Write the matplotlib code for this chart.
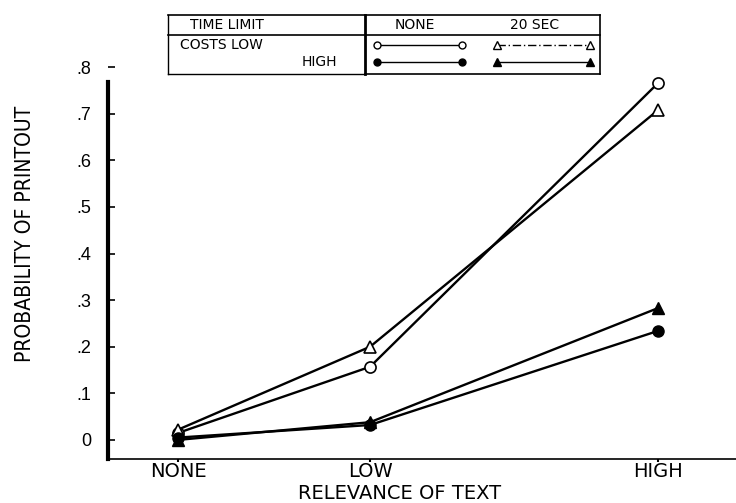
"""Probability of printout vs relevance of text, by cost and time limit."""
import matplotlib
matplotlib.use("Agg")
import matplotlib.pyplot as plt
from matplotlib.lines import Line2D

relevance = ["NONE", "LOW", "HIGH"]
x_pos = [0, 1, 2.5]  # original figure spaces the categories unevenly

low_cost_no_limit = [0.015, 0.157, 0.766]
low_cost_20s = [0.022, 0.200, 0.708]
high_cost_no_limit = [0.005, 0.032, 0.234]
high_cost_20s = [0.000, 0.038, 0.283]

y_ticks = [0, 0.1, 0.2, 0.3, 0.4, 0.5, 0.6, 0.7, 0.8]
y_ticklabels = ["0", ".1", ".2", ".3", ".4", ".5", ".6", ".7", ".8"]

W, H = 736, 503
fig = plt.figure(figsize=(W / 100, H / 100), dpi=100)
ax = fig.add_axes([108 / W, (H - 459) / H, (736 - 108) / W, (459 - 50) / H])

ax.plot(x_pos, low_cost_no_limit, color="k", lw=1.7, marker="o", ms=8,
        mfc="white", mec="k", mew=1.2, zorder=3)
ax.plot(x_pos, low_cost_20s, color="k", lw=1.7, marker="^", ms=9,
        mfc="white", mec="k", mew=1.2, zorder=3)
ax.plot(x_pos, high_cost_no_limit, color="k", lw=1.7, marker="o", ms=8,
        mfc="k", mec="k", zorder=4)
ax.plot(x_pos, high_cost_20s, color="k", lw=1.7, marker="^", ms=9,
        mfc="k", mec="k", zorder=4)

ax.set_xlim(-0.365, 2.906)
ax.set_ylim(-0.041, 0.837)
ax.set_xticks(x_pos)
ax.set_xticklabels(relevance, fontsize=14, family="DejaVu Sans")
ax.set_yticks(y_ticks)
ax.set_yticklabels(y_ticklabels, fontsize=13, family="Liberation Sans")
ax.tick_params(axis="y", direction="in", length=5, width=1.2, pad=12)
ax.tick_params(axis="x", direction="out", length=2, width=1.5, pad=0.5)

for s in ("top", "right"):
    ax.spines[s].set_visible(False)
ax.spines["left"].set_linewidth(3)
ax.spines["left"].set_bounds(-0.041, 0.768)
ax.spines["bottom"].set_linewidth(1.2)

ax.set_ylabel("PROBABILITY OF PRINTOUT", fontsize=15, family="DejaVu Sans",
              fontstretch="condensed")
ax.yaxis.set_label_coords(-0.117, 0.55)
ax.set_xlabel("RELEVANCE OF TEXT", fontsize=14, family="DejaVu Sans")
ax.xaxis.set_label_coords(0.465, -0.062)


# legend table drawn in pixel coordinates of the reference
def fx(px):
    return px / W


def fy(py):
    return (H - py) / H


def seg(x0, y0, x1, y1, **kw):
    fig.add_artist(Line2D([fx(x0), fx(x1)], [fy(y0), fy(y1)],
                          transform=fig.transFigure, color="k", **kw))


seg(168, 15, 600, 15, lw=1.2)
seg(168, 35, 600, 35, lw=1.2)
seg(168, 74, 365, 74, lw=1.0)
seg(365, 74, 600, 74, lw=1.2)
seg(168, 15, 168, 74, lw=1.0)
seg(365, 15, 365, 74, lw=2.0)
seg(600, 15, 600, 74, lw=1.2)

tkw = dict(transform=fig.transFigure, fontsize=10, family="DejaVu Sans",
           va="center", color="k")
fig.text(fx(190), fy(25), "TIME LIMIT", ha="left", **tkw)
fig.text(fx(395), fy(25), "NONE", ha="left", **tkw)
fig.text(fx(510), fy(25), "20 SEC", ha="left", **tkw)
fig.text(fx(180), fy(45), "COSTS LOW", ha="left", **tkw)
fig.text(fx(337), fy(62), "HIGH", ha="right", **tkw)

for y, face in [(45, "white"), (62, "k")]:
    fig.add_artist(Line2D([fx(377), fx(462)], [fy(y), fy(y)], transform=fig.transFigure,
                          color="k", lw=1.0, marker="o", ms=5, mfc=face, mec="k"))
fig.add_artist(Line2D([fx(497), fx(590)], [fy(45), fy(45)], transform=fig.transFigure,
                      color="k", lw=1.0, ls=(0, (6, 2, 1, 2)), marker="^", ms=6,
                      mfc="white", mec="k"))
fig.add_artist(Line2D([fx(497), fx(590)], [fy(62), fy(62)], transform=fig.transFigure,
                      color="k", lw=1.0, marker="^", ms=6, mfc="k", mec="k"))

fig.savefig("out.png", dpi=100)
